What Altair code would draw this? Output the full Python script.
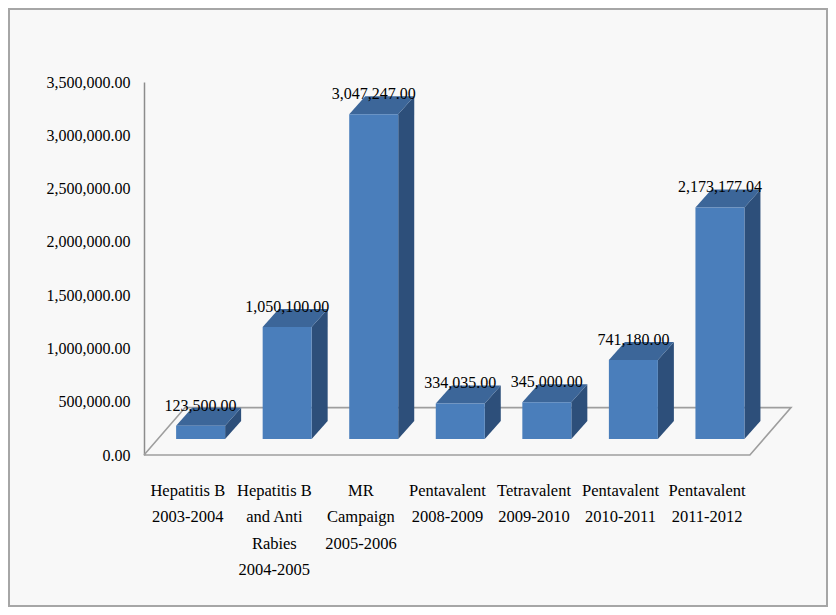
import json
import altair as alt
import pandas as pd

# ---- data ----
category_lines = [
    ["Hepatitis B", "2003-2004"],
    ["Hepatitis B", "and Anti", "Rabies", "2004-2005"],
    ["MR", "Campaign", "2005-2006"],
    ["Pentavalent", "2008-2009"],
    ["Tetravalent", "2009-2010"],
    ["Pentavalent", "2010-2011"],
    ["Pentavalent", "2011-2012"],
]
values = [123500.00, 1050100.00, 3047247.00, 334035.00, 345000.00, 741180.00, 2173177.04]
y_ticks = [0, 500000, 1000000, 1500000, 2000000, 2500000, 3000000, 3500000]

# ---- 3D (oblique) geometry, in data units ----
N = len(values)
FLOOR_DX = 0.475          # floor depth along x (category units)
FLOOR_DY = 445000         # floor depth along y (value units)
BAR_FRONT_DX = 0.154      # bar front plane offset inside the floor
BAR_BASE = 150000         # bar front bottom height (value units)
BAR_W = 0.566             # bar width (category units)
BAR_DX = 0.185            # bar depth along x
BAR_DY = 169000           # bar depth along y

front_rows, top_rows, side_rows, label_rows = [], [], [], []
for i, v in enumerate(values):
    x0 = i + 0.5 - BAR_W / 2 + BAR_FRONT_DX
    x1 = x0 + BAR_W
    t = BAR_BASE + v
    front_rows.append({"bar": i, "x0": x0, "x1": x1, "y0": BAR_BASE, "y1": t})
    top_rows += [
        {"bar": i, "x": x0, "y": t, "y2": t},
        {"bar": i, "x": x0 + BAR_DX, "y": t, "y2": t + BAR_DY},
        {"bar": i, "x": x1, "y": t, "y2": t + BAR_DY},
        {"bar": i, "x": x1 + BAR_DX, "y": t + BAR_DY, "y2": t + BAR_DY},
    ]
    side_rows += [
        {"bar": i, "x": x1, "y": BAR_BASE, "y2": t},
        {"bar": i, "x": x1 + BAR_DX, "y": BAR_BASE + BAR_DY, "y2": t + BAR_DY},
    ]
    label_rows.append({"x": (x0 + x1) / 2, "y": t + BAR_DY, "v": v})

floor_rows = [
    {"o": 0, "x": 0, "y": 0},
    {"o": 1, "x": N, "y": 0},
    {"o": 2, "x": N + FLOOR_DX, "y": FLOOR_DY},
    {"o": 3, "x": FLOOR_DX, "y": FLOOR_DY},
    {"o": 4, "x": 0, "y": 0},
]

FONT = "'Liberation Serif', 'Times New Roman', 'DejaVu Serif', serif"
xscale = alt.Scale(domain=[0, N + FLOOR_DX], nice=False, zero=False)
yscale = alt.Scale(domain=[0, 3500000], nice=False)

label_expr = json.dumps(category_lines) + "[floor(datum.value)]"

x_axis = alt.Axis(
    values=[i + 0.5 for i in range(N)],
    labelExpr=label_expr,
    domain=False, ticks=False, grid=False, title=None,
    labelFont=FONT, labelFontSize=16.5, labelColor="black",
    labelBaseline="top", labelPadding=27, labelLineHeight=26.5,
    labelOverlap=False, labelBound=False, labelFlush=False,
)
y_axis = alt.Axis(
    values=y_ticks, format=",.2f", title=None,
    domainColor="#8c8c8c", domainWidth=1.5, ticks=False, grid=False,
    labelFont=FONT, labelFontSize=16, labelColor="black", labelPadding=14,
)

floor = alt.Chart(pd.DataFrame(floor_rows)).mark_line(
    color="#9e9e9e", strokeWidth=1.6
).encode(
    x=alt.X("x:Q", scale=xscale, axis=x_axis),
    y=alt.Y("y:Q", scale=yscale, axis=y_axis),
    order="o:Q",
)

side = alt.Chart(pd.DataFrame(side_rows)).mark_area(color="#2d4f7a").encode(
    x="x:Q", y="y:Q", y2="y2:Q", detail="bar:N"
)
top = alt.Chart(pd.DataFrame(top_rows)).mark_area(color="#3c6699").encode(
    x="x:Q", y="y:Q", y2="y2:Q", detail="bar:N"
)
front = alt.Chart(pd.DataFrame(front_rows)).mark_rect(color="#4a7ebb").encode(
    x="x0:Q", x2="x1:Q", y="y0:Q", y2="y1:Q"
)
labels = alt.Chart(pd.DataFrame(label_rows)).mark_text(
    font=FONT, fontSize=16, color="black", baseline="alphabetic", dy=3
).encode(
    x="x:Q", y="y:Q", text=alt.Text("v:Q", format=",.2f")
)

frame = alt.Chart(pd.DataFrame({"a": [0]})).mark_rect(
    fill=None, stroke="#a6a6a6", strokeWidth=2
).encode(
    x=alt.value(-135), x2=alt.value(683), y=alt.value(-73), y2=alt.value(524)
)

chart = alt.layer(frame, floor, side, top, front, labels).properties(
    width=647,
    height=373,
    padding={"left": 136, "top": 74, "right": 37, "bottom": 152},
    autosize=alt.AutoSizeParams(type="none"),
    background="#f8f8f8",
).configure_view(stroke=None)

chart.save("out.html", embed_options={"renderer": "svg", "actions": False})
